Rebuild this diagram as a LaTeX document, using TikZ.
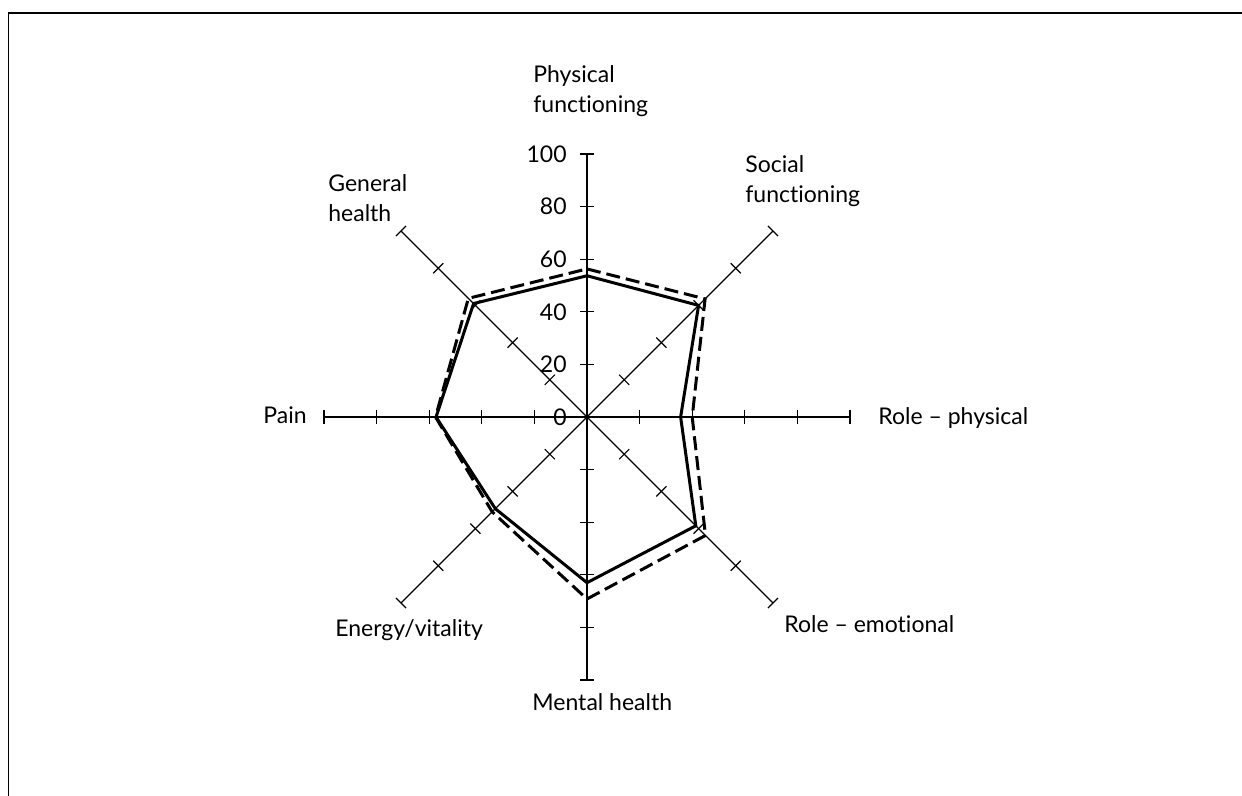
\documentclass[tikz,border=0pt]{standalone}
\usepackage{fontspec}
\setmainfont{Lato}[Ligatures=NoCommon]
\usetikzlibrary{positioning}

\tikzset{
  axis/.style={line width=0.6pt},
  frameline/.style={line width=0.8pt},
  scoreA/.style={line width=1.5pt},
  scoreB/.style={line width=1.5pt, dash pattern=on 7pt off 3pt},
  lbl/.style={inner sep=0pt, anchor=base west, align=left, font=\fontsize{11.5}{15}\selectfont},
  num/.style={inner sep=0pt, anchor=east, font=\fontsize{11.5}{15}\selectfont}
}

\begin{document}
\begin{tikzpicture}[x=0.5pt,y=-0.5pt]
\useasboundingbox (0,0) rectangle (1242,796);
\draw[frameline](1242,13)--(8.5,13)--(8.5,796);

\begin{scope}[shift={(587,417)},x=1.315pt,y=1.315pt]
% axes with ticks
\foreach \a in {0,45,...,315}{
  \draw[axis](0,0)--(\a:100);
  \foreach \r in {20,40,...,100}
    \draw[axis,rotate=\a](\r,-2.7)--(\r,2.7);
}
\foreach \v in {0,20,...,100}
  \node[num](n\v) at (-7.6,\v){\v};

% solid scores
\coordinate(pfA) at (90:53.7);
\coordinate(sfA) at (45:60);
\coordinate(rpA) at (0:35.6);
\coordinate(reA) at (-45:58.5);
\coordinate(mhA) at (-90:63);
\coordinate(evA) at (-135:49.3);
\coordinate(paA) at (180:57.4);
\coordinate(ghA) at (135:61);

% dashed scores
\coordinate(pfB) at (90:56.3);
\coordinate(sfB) at (45:63.5);
\coordinate(rpB) at (0:40);
\coordinate(reB) at (-45:63.7);
\coordinate(mhB) at (-90:69.2);
\coordinate(evB) at (-135:51);
\coordinate(paB) at (180:57.6);
\coordinate(ghB) at (135:63.8);

\draw[scoreA](pfA)--(sfA)--(rpA)--(reA)--(mhA)--(evA)--(paA)--(ghA)--cycle;
\draw[scoreB](pfB)--(sfB)--(rpB)--(reB)--(mhB)--(evB)--(paB)--(ghB)--cycle;
\end{scope}

\node[lbl](pf) at (533,113){Physical\\functioning};
\node[lbl](sf) at (745,203){Social\\functioning};
\node[lbl](rp) at (878,425){Role -- physical};
\node[lbl](re) at (784,632){Role -- emotional};
\node[lbl](mh) at (532,710){Mental health};
\node[lbl](ev) at (335,636){Energy/vitality};
\node[lbl](pa) at (263,423){Pain};
\node[lbl](gh) at (328,222){General\\health};
\end{tikzpicture}
\end{document}
